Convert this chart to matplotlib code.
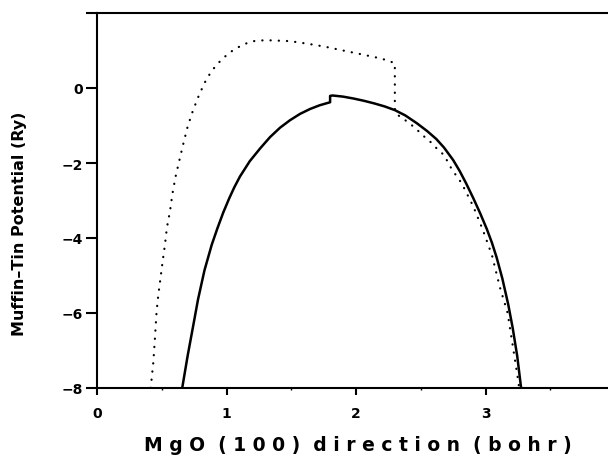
import matplotlib
matplotlib.use("Agg")
import matplotlib.pyplot as plt
from matplotlib.ticker import MultipleLocator

# Dotted curve (x in bohr, potential in Ry)
dot_x = [0.415, 0.422, 0.435, 0.448, 0.46, 0.473, 0.49, 0.507, 0.525, 0.54, 0.564,
         0.582, 0.607, 0.636, 0.667, 0.70, 0.741, 0.79, 0.84, 0.883, 0.924, 0.973,
         1.022, 1.081, 1.145, 1.21, 1.28, 1.35, 1.49, 1.627, 1.763, 1.90, 2.04,
         2.175, 2.24, 2.30, 2.30, 2.31, 2.365, 2.42, 2.47, 2.525, 2.57, 2.62, 2.68,
         2.74, 2.816, 2.906, 2.98, 3.05, 3.11, 3.17, 3.21, 3.25, 3.26]
dot_y = [-8.0, -7.75, -7.31, -6.64, -5.97, -5.53, -5.08, -4.62, -4.17, -3.72, -3.28,
         -2.83, -2.36, -1.93, -1.48, -1.03, -0.60, -0.17, 0.20, 0.44, 0.62, 0.79,
         0.94, 1.07, 1.18, 1.25, 1.27, 1.27, 1.25, 1.18, 1.10, 1.00, 0.90,
         0.80, 0.74, 0.66, -0.55, -0.69, -0.82, -0.96, -1.11, -1.29, -1.42, -1.60, -1.79,
         -2.17, -2.54, -3.16, -3.79, -4.46, -5.30, -5.99, -6.86, -7.75, -8.0]

# Solid curve
sol_x = [0.658, 0.70, 0.745, 0.78, 0.83, 0.886, 0.93, 0.975, 1.02, 1.06, 1.104,
         1.18, 1.26, 1.336, 1.413, 1.49, 1.568, 1.645, 1.72, 1.80,
         1.80, 1.82, 1.90, 1.98, 2.06, 2.14, 2.22, 2.30, 2.38, 2.47, 2.55, 2.62,
         2.68, 2.75, 2.80, 2.85, 2.906, 2.96, 3.01, 3.05, 3.086, 3.13, 3.176,
         3.21, 3.245, 3.275]
sol_y = [-8.0, -7.14, -6.30, -5.64, -4.86, -4.18, -3.74, -3.32, -2.95, -2.65, -2.36,
         -1.95, -1.61, -1.31, -1.06, -0.86, -0.69, -0.56, -0.46, -0.38,
         -0.21, -0.20, -0.23, -0.28, -0.34, -0.41, -0.49, -0.59, -0.73, -0.94, -1.15, -1.36,
         -1.59, -1.92, -2.21, -2.54, -2.94, -3.35, -3.76, -4.13, -4.52, -5.08, -5.78,
         -6.40, -7.15, -8.0]

x_ticks = [0, 1, 2, 3]
y_ticks = [-8, -6, -4, -2, 0, 2]
y_ticklabels = ["\u22128", "\u22126", "\u22124", "\u22122", "0", ""]

plt.rcParams['font.family'] = ['DejaVu Sans']

fig = plt.figure(figsize=(6.08, 4.56), dpi=100)
ax = fig.add_axes([97/608, 67/456, 4*129.5/608, 375/456])

ax.plot(sol_x, sol_y, color='black', lw=1.8, solid_joinstyle='round')
ax.plot(dot_x, dot_y, color='black', lw=1.6, linestyle=(0, (0.1, 3.6)),
        dash_capstyle='round')

ax.set_xlim(0, 4)
ax.set_ylim(-8, 2)
ax.set_xticks(x_ticks)
ax.set_xticklabels([str(v) for v in x_ticks], fontweight='bold', fontsize=10)
ax.xaxis.set_minor_locator(MultipleLocator(0.5))
ax.set_yticks(y_ticks)
ax.set_yticklabels(y_ticklabels, fontweight='bold', fontsize=10)

for s in ax.spines.values():
    s.set_linewidth(1.5)
ax.tick_params(axis='x', which='major', direction='out', length=5, width=1.5, pad=8)
ax.tick_params(axis='x', which='minor', direction='out', length=1.5, width=1.0)
ax.tick_params(axis='y', which='major', direction='out', length=8, width=1.5, pad=2)

fig.text(358/608, 1 - 446/456, "M g O  ( 1 0 0 )  d i r e c t i o n  ( b o h r )",
         ha='center', va='center', fontsize=13.5, fontweight='bold')
fig.text(20/608, 1 - 224/456, "Muffin\u2013Tin Potential (Ry)", rotation=90,
         ha='center', va='center', fontsize=11.5, fontweight='bold')

fig.savefig("out.png", dpi=100)
